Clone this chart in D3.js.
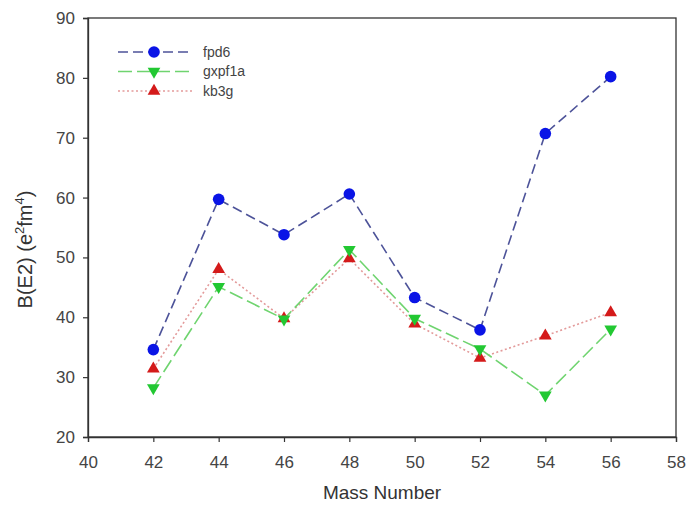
<!DOCTYPE html>
<html>
<head>
<meta charset="utf-8">
<script src="https://cdn.jsdelivr.net/npm/d3@7"></script>
<style>
  body { margin: 0; background: #fff; }
  text { font-family: Arial, "Liberation Sans", sans-serif; }
</style>
</head>
<body>
<div id="chart"></div>
<script>
// data
var massNumbers = [42, 44, 46, 48, 50, 52, 54, 56];
var fpd6 = [34.6, 59.7, 53.8, 60.6, 43.3, 37.9, 70.7, 80.2];
var gxpf1a = [28.2, 45.1, 39.7, 51.3, 39.8, 34.7, 27.0, 38.0];
var kb3g = [31.4, 48.0, 39.8, 49.8, 38.9, 33.2, 36.9, 40.8];
var xTicks = [40, 42, 44, 46, 48, 50, 52, 54, 56, 58];
var yTicks = [20, 30, 40, 50, 60, 70, 80, 90];
var seriesNames = ["fpd6", "gxpf1a", "kb3g"];

var series = [
  { name: seriesNames[0], values: fpd6, line: "#4d5399", dash: "10,5", marker: "circle", fill: "#0a14e6" },
  { name: seriesNames[1], values: gxpf1a, line: "#6fd46f", dash: "14,5", marker: "down", fill: "#22c832" },
  { name: seriesNames[2], values: kb3g, line: "#e39a9a", dash: "2,2.5", marker: "up", fill: "#d41a1a" }
];

// set the dimensions and margins of the graph
var margin = { top: 18, right: 10, bottom: 76, left: 88 },
    width = 686 - margin.left - margin.right,
    height = 513 - margin.top - margin.bottom;

var x = d3.scaleLinear().domain([40, 58]).range([0, width]);
var y = d3.scaleLinear().domain([20, 90]).range([height, 0]);

var svg = d3.select("#chart").append("svg")
    .attr("width", 686)
    .attr("height", 513)
    .append("g")
    .attr("transform", "translate(" + margin.left + "," + margin.top + ")");

// frame
svg.append("rect")
    .attr("width", width)
    .attr("height", height)
    .attr("fill", "none")
    .attr("stroke", "#333")
    .attr("stroke-width", 1.3);

// axes
var xAxis = svg.append("g")
    .attr("transform", "translate(0," + height + ")")
    .call(d3.axisBottom(x).tickValues(xTicks).tickSize(5).tickPadding(14));
var yAxis = svg.append("g")
    .call(d3.axisLeft(y).tickValues(yTicks).tickSize(5).tickPadding(8));

[xAxis, yAxis].forEach(function (a) {
  a.select(".domain").attr("stroke", "#333").attr("stroke-width", 1.3);
  a.selectAll(".tick line").attr("stroke", "#333").attr("stroke-width", 1.2);
  a.selectAll(".tick text")
      .attr("fill", "#444")
      .style("font-size", "17px")
      .style("font-family", "Arial, 'Liberation Sans', sans-serif");
});

// axis titles
svg.append("text")
    .attr("x", width / 2)
    .attr("y", height + 62)
    .attr("text-anchor", "middle")
    .attr("fill", "#333")
    .style("font-size", "19px")
    .text("Mass Number");

var yl = svg.append("text")
    .attr("transform", "translate(-56," + (height / 2 + 22) + ") rotate(-90)")
    .attr("text-anchor", "middle")
    .attr("fill", "#333")
    .style("font-size", "20px");
yl.append("tspan").text("B(E2) (e");
yl.append("tspan").attr("dy", -8).style("font-size", "13px").text("2");
yl.append("tspan").attr("dy", 8).text("fm");
yl.append("tspan").attr("dy", -8).style("font-size", "13px").text("4");
yl.append("tspan").attr("dy", 8).text(")");

// lines and markers
var line = d3.line()
    .x(function (d, i) { return x(massNumbers[i]); })
    .y(function (d) { return y(d); });

var triUp = d3.symbol().type(d3.symbolTriangle).size(70);

function drawMarker(g, kind, fill) {
  if (kind === "circle") {
    g.append("circle").attr("r", 5.8).attr("fill", fill);
  } else {
    g.append("path").attr("d", triUp())
        .attr("fill", fill)
        .attr("transform", kind === "down" ? "rotate(180)" : null);
  }
}

// draw in reverse so fpd6 sits on top
series.slice().reverse().forEach(function (s) {
  svg.append("path")
      .datum(s.values)
      .attr("d", line)
      .attr("fill", "none")
      .attr("stroke", s.line)
      .attr("stroke-width", 1.6)
      .attr("stroke-dasharray", s.dash);
});
series.slice().reverse().forEach(function (s) {
  s.values.forEach(function (v, i) {
    var g = svg.append("g")
        .attr("transform", "translate(" + x(massNumbers[i]) + "," + y(v) + ")");
    drawMarker(g, s.marker, s.fill);
  });
});

// legend
var legend = svg.append("g").attr("transform", "translate(30,34)");
series.forEach(function (s, i) {
  var row = legend.append("g").attr("transform", "translate(0," + (i * 19.5) + ")");
  row.append("line")
      .attr("x1", 0).attr("x2", 74)
      .attr("stroke", s.line)
      .attr("stroke-width", 1.6)
      .attr("stroke-dasharray", s.dash);
  var m = row.append("g").attr("transform", "translate(36,0)");
  drawMarker(m, s.marker, s.fill);
  row.append("text")
      .attr("x", 85)
      .attr("y", 4.5)
      .attr("fill", "#444")
      .style("font-size", "14px")
      .text(s.name);
});
</script>
</body>
</html>
